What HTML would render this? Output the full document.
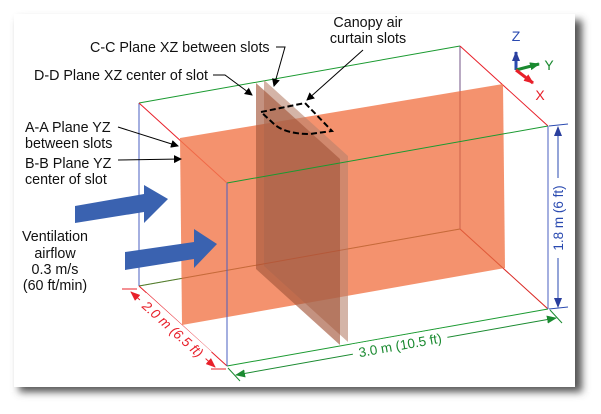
<!DOCTYPE html>
<html><head><style>
html,body{margin:0;padding:0;background:#fff;width:601px;height:414px;overflow:hidden}
text{font-family:"Liberation Sans",Arial,sans-serif}
</style></head><body>
<svg width="601" height="414" viewBox="0 0 601 414" xmlns="http://www.w3.org/2000/svg">
<defs>
<filter id="sh" x="-5%" y="-5%" width="112%" height="115%"><feGaussianBlur stdDeviation="4"/></filter>
<marker id="ak" markerWidth="8" markerHeight="8" refX="7" refY="4" orient="auto" markerUnits="userSpaceOnUse"><path d="M0,0 L8,4 L0,8 Z" fill="#000"/></marker>
<marker id="ar" markerWidth="10" markerHeight="8" refX="9" refY="4" orient="auto-start-reverse" markerUnits="userSpaceOnUse"><path d="M0,0 L10,4 L0,8 Z" fill="#e8202a"/></marker>
<marker id="ag" markerWidth="10" markerHeight="8" refX="9" refY="4" orient="auto-start-reverse" markerUnits="userSpaceOnUse"><path d="M0,0 L10,4 L0,8 Z" fill="#1a8a30"/></marker>
<marker id="ab" markerWidth="10" markerHeight="8" refX="9" refY="4" orient="auto-start-reverse" markerUnits="userSpaceOnUse"><path d="M0,0 L10,4 L0,8 Z" fill="#2a3f9e"/></marker>
</defs>
<rect x="19" y="20" width="563" height="372" fill="#555" filter="url(#sh)"/>
<rect x="14" y="14" width="561" height="373" fill="#fff"/>

<!-- back edges -->
<line x1="139" y1="103" x2="460" y2="46" stroke="#1a9a30" stroke-width="1"/>
<line x1="139" y1="103" x2="139" y2="286" stroke="#4a5fc0" stroke-width="1"/>
<line x1="460" y1="46" x2="460" y2="229" stroke="#4a5fc0" stroke-width="1"/>
<line x1="139" y1="286" x2="460" y2="229" stroke="#1a9a30" stroke-width="1"/>
<line x1="139" y1="103" x2="227" y2="183" stroke="#e8202a" stroke-width="1"/>
<line x1="460" y1="46" x2="548" y2="126" stroke="#e8202a" stroke-width="1"/>
<line x1="139" y1="286" x2="227" y2="366" stroke="#e8202a" stroke-width="1"/>
<line x1="460" y1="229" x2="548" y2="309" stroke="#e8202a" stroke-width="1"/>

<!-- big orange plane -->
<polygon points="180,138 503,84 505,268 182,325" fill="#f27a4e" opacity="0.82"/>
<!-- vertical planes -->
<polygon points="264,80 348,156 348,342 264,266" fill="#b8826c" opacity="0.6"/>
<polygon points="256,83 340,159 340,345 256,269" fill="#a4583c" opacity="0.65"/>
<!-- faint edges through planes -->
<g opacity="0.35">
<line x1="460" y1="46" x2="460" y2="229" stroke="#c04020"/>
<line x1="139" y1="286" x2="460" y2="229" stroke="#c04020"/>
<line x1="460" y1="229" x2="548" y2="309" stroke="#c04020"/>
</g>
<!-- dashed slots -->
<path d="M261,112 L305,103 L332,131 L310,134 Q285,134 274,124 Z" fill="none" stroke="#000" stroke-width="2" stroke-dasharray="6,3"/>

<!-- front edges -->
<line x1="227" y1="183" x2="548" y2="126" stroke="#1a9a30" stroke-width="1"/>
<line x1="227" y1="366" x2="548" y2="309" stroke="#1a9a30" stroke-width="1"/>
<line x1="227" y1="183" x2="227" y2="366" stroke="#4a5fc0" stroke-width="1"/>
<line x1="548" y1="126" x2="548" y2="309" stroke="#4a5fc0" stroke-width="1"/>

<!-- blue arrows -->
<polygon points="75,206 144,194 144,185 168,199 144,223 144,212 75,223" fill="#3a62b0"/>
<polygon points="125,252 194,242 194,229 217,244 194,268 194,259 125,270" fill="#3a62b0"/>

<!-- leaders -->
<polyline points="276,47 285,47 274,86" fill="none" stroke="#000" stroke-width="1" marker-end="url(#ak)"/>
<polyline points="213,75 225,75 252,95" fill="none" stroke="#000" stroke-width="1" marker-end="url(#ak)"/>
<line x1="118" y1="127" x2="178" y2="146" stroke="#000" stroke-width="1" marker-end="url(#ak)"/>
<line x1="118" y1="160" x2="181" y2="159" stroke="#000" stroke-width="1" marker-end="url(#ak)"/>
<line x1="363" y1="50" x2="307" y2="100" stroke="#000" stroke-width="1" marker-end="url(#ak)"/>

<!-- labels -->
<g font-size="14.3" fill="#111">
<text x="90" y="52">C-C Plane XZ between slots</text>
<text x="34" y="80">D-D Plane XZ center of slot</text>
<text x="25" y="132">A-A Plane YZ</text>
<text x="25" y="148">between slots</text>
<text x="25" y="168">B-B Plane YZ</text>
<text x="25" y="184">center of slot</text>
<text x="368" y="27" text-anchor="middle">Canopy air</text>
<text x="368" y="43" text-anchor="middle">curtain slots</text>
<text x="55" y="241" text-anchor="middle">Ventilation</text>
<text x="55" y="258" text-anchor="middle">airflow</text>
<text x="55" y="274" text-anchor="middle">0.3 m/s</text>
<text x="55" y="290" text-anchor="middle">(60 ft/min)</text>
</g>

<!-- axes -->
<line x1="516" y1="70" x2="516" y2="52" stroke="#2a4ab0" stroke-width="3" marker-end="url(#ab)"/>
<line x1="516" y1="70" x2="539" y2="64" stroke="#1a8a30" stroke-width="3" marker-end="url(#ag)"/>
<line x1="516" y1="70" x2="533" y2="83" stroke="#e8202a" stroke-width="3" marker-end="url(#ar)"/>
<text x="516" y="41" font-size="14" fill="#2a4ab0" text-anchor="middle">Z</text>
<text x="549" y="70" font-size="14" fill="#1a8a30" text-anchor="middle">Y</text>
<text x="540" y="100" font-size="14" fill="#e8202a" text-anchor="middle">X</text>

<!-- dimension: red -->
<line x1="122" y1="289" x2="137" y2="289" stroke="#e8202a"/>
<line x1="211" y1="369" x2="226" y2="369" stroke="#e8202a"/>
<line x1="131" y1="292" x2="215" y2="367" stroke="#e8202a" marker-start="url(#ar)" marker-end="url(#ar)"/>
<g transform="translate(173,329) rotate(42)"><rect x="-44" y="-9" width="88" height="15" fill="#fff"/><text x="0" y="5" font-size="13.5" fill="#e8202a" font-style="italic" text-anchor="middle">2.0 m (6.5 ft)</text></g>

<!-- dimension: green -->
<line x1="228" y1="368" x2="240" y2="381" stroke="#1a8a30"/>
<line x1="550" y1="310" x2="562" y2="323" stroke="#1a8a30"/>
<line x1="236" y1="375" x2="556" y2="318" stroke="#1a8a30" marker-start="url(#ag)" marker-end="url(#ag)"/>
<g transform="translate(400,345) rotate(-10)"><rect x="-48" y="-9" width="96" height="15" fill="#fff"/><text x="0" y="5" font-size="13.5" fill="#1a8a30" text-anchor="middle">3.0 m (10.5 ft)</text></g>

<!-- dimension: blue -->
<line x1="549" y1="126" x2="568" y2="124" stroke="#2a4ab0"/>
<line x1="549" y1="309" x2="568" y2="307" stroke="#2a4ab0"/>
<line x1="558" y1="127" x2="558" y2="307" stroke="#2a4ab0" marker-start="url(#ab)" marker-end="url(#ab)"/>
<g transform="translate(558,218) rotate(-90)"><rect x="-40" y="-8" width="80" height="15" fill="#fff"/><text x="0" y="5" font-size="13.5" fill="#2a4ab0" text-anchor="middle">1.8 m (6 ft)</text></g>
</svg>
</body></html>
